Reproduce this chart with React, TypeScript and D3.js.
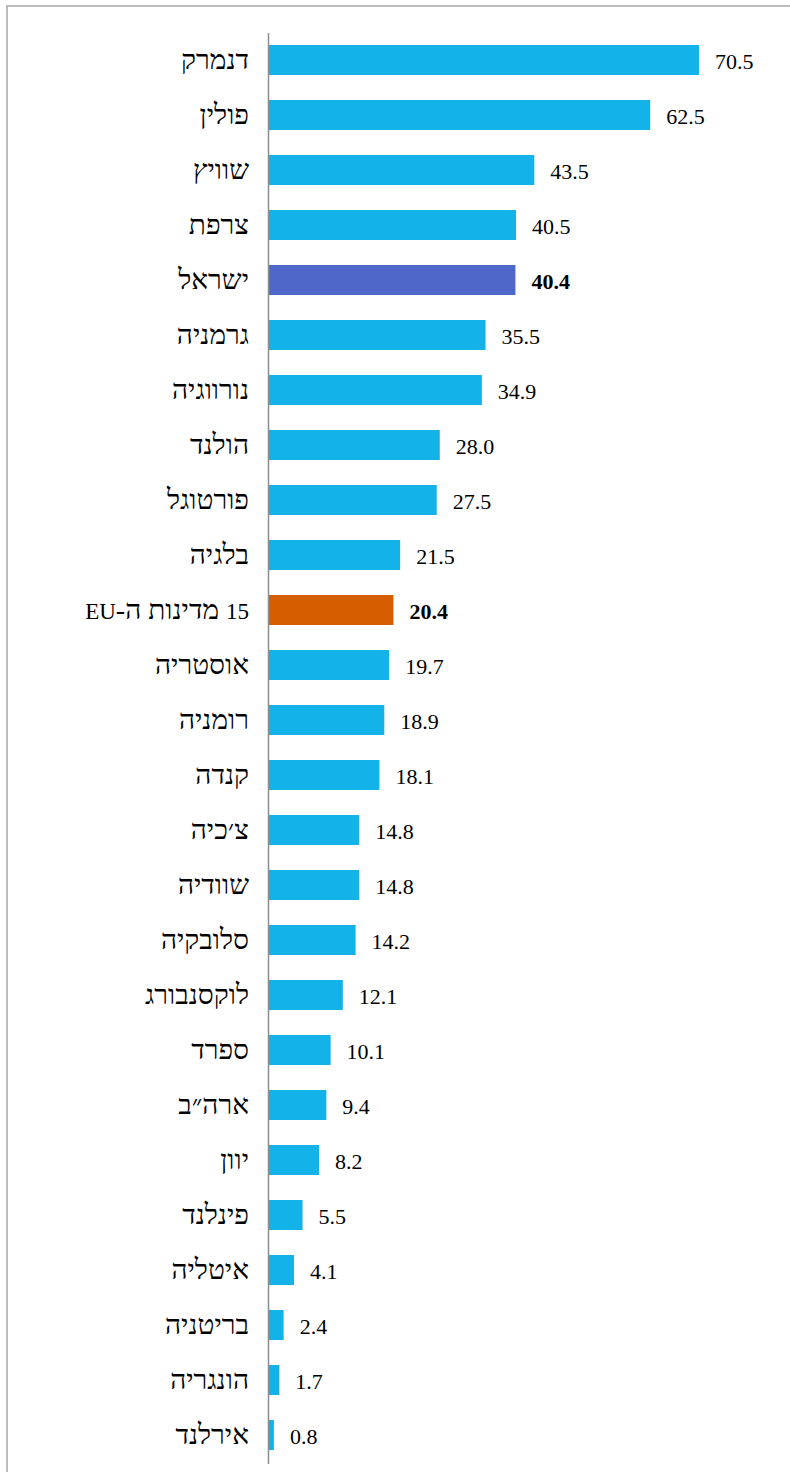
import React from "react";
import * as d3 from "d3";

const countries = ["דנמרק","פולין","שוויץ","צרפת","ישראל","גרמניה","נורווגיה","הולנד","פורטוגל","בלגיה","15 מדינות ה-EU","אוסטריה","רומניה","קנדה","צ׳כיה","שוודיה","סלובקיה","לוקסנבורג","ספרד","ארה״ב","יוון","פינלנד","איטליה","בריטניה","הונגריה","אירלנד"];
const values = [70.5,62.5,43.5,40.5,40.4,35.5,34.9,28.0,27.5,21.5,20.4,19.7,18.9,18.1,14.8,14.8,14.2,12.1,10.1,9.4,8.2,5.5,4.1,2.4,1.7,0.8];
const highlightIsrael = "ישראל";
const highlightEU = "15 מדינות ה-EU";

function parts(s: string) {
  return s.split(/([A-Za-z0-9]+)/).filter((p) => p.length > 0);
}

export default function App() {
  const W = 790, H = 1472;
  const x0 = 269;
  const x = d3.scaleLinear().domain([0, 70.5]).range([x0, 699]);
  const yb = d3.scaleBand<string>().domain(countries).range([32.5, 32.5 + 55 * 26])
    .paddingInner(25 / 55).paddingOuter(12.5 / 55);
  const font = "'Liberation Serif', 'Times New Roman', serif";
  const color = (c: string) => c === highlightIsrael ? "#4f67c9" : c === highlightEU ? "#d55e00" : "#13b2e9";
  return (
    <svg width={W} height={H} style={{ position: "absolute", left: 0, top: 0, background: "#fff" }}>
      <rect x={7} y={6} width={W} height={H} fill="none" stroke="#a6a6a6" strokeWidth={1.5} />
      {countries.map((c, i) => {
        const yy = yb(c)!;
        const bh = yb.bandwidth();
        const bold = c === highlightIsrael || c === highlightEU;
        return (
          <g key={c}>
            <rect x={x0} y={yy} width={x(values[i]) - x0} height={bh} fill={color(c)} />
            <text x={x(values[i]) + 16} y={yy + bh / 2 + 8.5} fontFamily={font} fontSize={22} fontWeight={bold ? "bold" : "normal"} fill="#000">{values[i].toFixed(1)}</text>
            <text x={249} y={yy + bh / 2 + 8.5} textAnchor="start" direction="rtl" fontFamily={font} fontSize={28} fill="#000">
              {parts(c).map((p, k) => /[A-Za-z0-9]/.test(p)
                ? <tspan key={k} fontSize={23}>{p}</tspan>
                : <tspan key={k}>{p}</tspan>)}
            </text>
          </g>
        );
      })}
      <line x1={268.5} x2={268.5} y1={33} y2={1464} stroke="#8c8c8c" strokeWidth={1.5} />
    </svg>
  );
}
